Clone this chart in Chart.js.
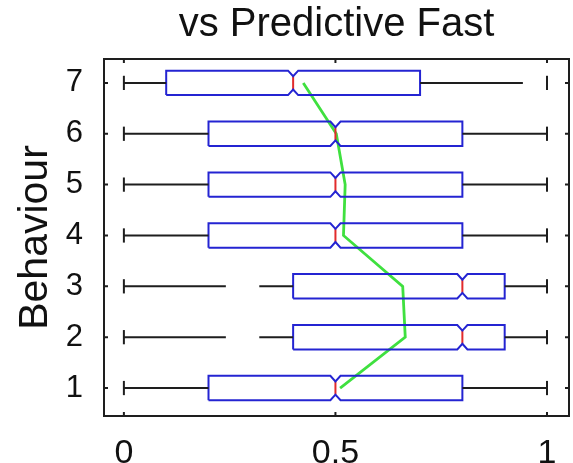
<!DOCTYPE html>
<html>
<head>
<meta charset="utf-8">
<title>vs Predictive Fast</title>
<script src="https://cdn.jsdelivr.net/npm/chart.js@4.4.1/dist/chart.umd.min.js"></script>
<style>
  html, body { margin: 0; padding: 0; background: #fff; }
  #wrap { width: 573px; height: 463px; }
</style>
</head>
<body>
<div id="wrap"><canvas id="boxChart" width="573" height="463"></canvas></div>
<script>
// values, one entry per behaviour (1..7)
const behaviours = [1, 2, 3, 4, 5, 6, 7];
const whiskerLow = [0, 0, 0, 0, 0, 0, 0];
const q1 = [0.2, 0.4, 0.4, 0.2, 0.2, 0.2, 0.1];
const medians = [0.5, 0.8, 0.8, 0.5, 0.5, 0.5, 0.4];
const q3 = [0.8, 0.9, 0.9, 0.8, 0.8, 0.8, 0.7];
const whiskerHigh = [1, 1, 1, 1, 1, 1, 1];
// gaps seen in the whisker lines: [from, to] or null
const lowerGaps = [null, [0.241, 0.32], [0.241, 0.32], null, null, null, null];
const upperGaps = [null, null, null, null, null, null, [0.943, 1]];
const means = [0.511, 0.665, 0.659, 0.519, 0.523, 0.502, 0.424];

const xTicks = [0, 0.5, 1];
const xTickLabels = ['0', '0.5', '1'];
const yTicks = [1, 2, 3, 4, 5, 6, 7];
const yTickLabels = ['1', '2', '3', '4', '5', '6', '7'];

// drawing sizes (in axis units)
const boxHalf = 0.24;
const notchHalf = 0.012;
const notchDepth = 0.11;
const capHalf = 0.14;

const BLUE = '#2424d2';
const RED = '#e22b2b';
const BLACK = '#1e1e1e';
const GREEN = '#3fe03f';

Chart.defaults.font.family = '"Liberation Sans", Arial, Helvetica, sans-serif';
Chart.defaults.color = '#111';

function seg(points, color, width) {
  return {
    type: 'scatter',
    data: points,
    showLine: true,
    borderColor: color,
    backgroundColor: color,
    borderWidth: width,
    pointRadius: 0,
    fill: false,
    tension: 0
  };
}

function whiskerParts(from, to, gap, y) {
  if (!gap) return [[{x: from, y: y}, {x: to, y: y}]];
  const parts = [];
  if (gap[0] > from) parts.push([{x: from, y: y}, {x: gap[0], y: y}]);
  if (gap[1] < to) parts.push([{x: gap[1], y: y}, {x: to, y: y}]);
  return parts;
}

const datasets = [];
behaviours.forEach((b, i) => {
  const lo = q1[i], hi = q3[i], m = medians[i];
  // whiskers and caps
  whiskerParts(whiskerLow[i], lo, lowerGaps[i], b).forEach(p => datasets.push(seg(p, BLACK, 2)));
  whiskerParts(hi, whiskerHigh[i], upperGaps[i], b).forEach(p => datasets.push(seg(p, BLACK, 2)));
  datasets.push(seg([{x: whiskerLow[i], y: b - capHalf}, {x: whiskerLow[i], y: b + capHalf}], BLACK, 2));
  datasets.push(seg([{x: whiskerHigh[i], y: b - capHalf}, {x: whiskerHigh[i], y: b + capHalf}], BLACK, 2));
  // notched box
  datasets.push(seg([
    {x: lo, y: b - boxHalf},
    {x: m - notchHalf, y: b - boxHalf},
    {x: m, y: b - boxHalf + notchDepth},
    {x: m + notchHalf, y: b - boxHalf},
    {x: hi, y: b - boxHalf},
    {x: hi, y: b + boxHalf},
    {x: m + notchHalf, y: b + boxHalf},
    {x: m, y: b + boxHalf - notchDepth},
    {x: m - notchHalf, y: b + boxHalf},
    {x: lo, y: b + boxHalf},
    {x: lo, y: b - boxHalf}
  ], BLUE, 2));
  // median
  datasets.push(seg([{x: m, y: b - boxHalf + notchDepth}, {x: m, y: b + boxHalf - notchDepth}], RED, 2));
});
// mean line
datasets.push(seg(behaviours.map((b, i) => ({x: means[i], y: b})), GREEN, 2.8));

const frameAndTicks = {
  id: 'frameAndTicks',
  afterDraw(chart) {
    const {ctx, chartArea: a, scales: {x, y}} = chart;
    ctx.save();
    ctx.strokeStyle = BLACK;
    ctx.lineWidth = 2;
    ctx.strokeRect(a.left, a.top, a.right - a.left, a.bottom - a.top);
    ctx.beginPath();
    xTicks.forEach(v => {
      const px = x.getPixelForValue(v);
      ctx.moveTo(px, a.bottom); ctx.lineTo(px, a.bottom - 4);
      ctx.moveTo(px, a.top); ctx.lineTo(px, a.top + 4);
    });
    yTicks.forEach(v => {
      const py = y.getPixelForValue(v);
      ctx.moveTo(a.left, py); ctx.lineTo(a.left + 4, py);
      ctx.moveTo(a.right, py); ctx.lineTo(a.right - 4, py);
    });
    ctx.stroke();
    ctx.restore();
  }
};

new Chart(document.getElementById('boxChart').getContext('2d'), {
  type: 'scatter',
  data: { datasets: datasets },
  options: {
    responsive: false,
    animation: false,
    layout: { padding: { left: 0, right: 4, top: 0, bottom: 0 } },
    plugins: {
      legend: { display: false },
      tooltip: { enabled: false },
      title: {
        display: true,
        fullSize: false,
        text: 'vs Predictive Fast',
        color: '#111',
        font: { size: 40, weight: 'normal' },
        padding: { top: 1, bottom: 10 }
      }
    },
    scales: {
      x: {
        type: 'linear',
        min: -0.047,
        max: 1.052,
        afterBuildTicks: s => { s.ticks = xTicks.map(v => ({ value: v })); },
        afterFit: s => { s.height = 47; },
        grid: { display: false },
        border: { display: false },
        ticks: {
          padding: 9,
          color: '#111',
          font: { size: 34 },
          maxRotation: 0,
          callback: (v, idx) => xTickLabels[idx]
        }
      },
      y: {
        type: 'linear',
        min: 0.45,
        max: 7.47,
        afterBuildTicks: s => { s.ticks = yTicks.map(v => ({ value: v })); },
        afterFit: s => { s.width = 104; },
        grid: { display: false },
        border: { display: false },
        title: {
          display: true,
          text: 'Behaviour',
          color: '#111',
          font: { size: 41 },
          padding: { top: 11, bottom: 0 }
        },
        ticks: {
          padding: 13,
          color: '#111',
          font: { size: 31 },
          callback: (v, idx) => yTickLabels[idx]
        }
      }
    }
  },
  plugins: [frameAndTicks]
});
</script>
</body>
</html>
